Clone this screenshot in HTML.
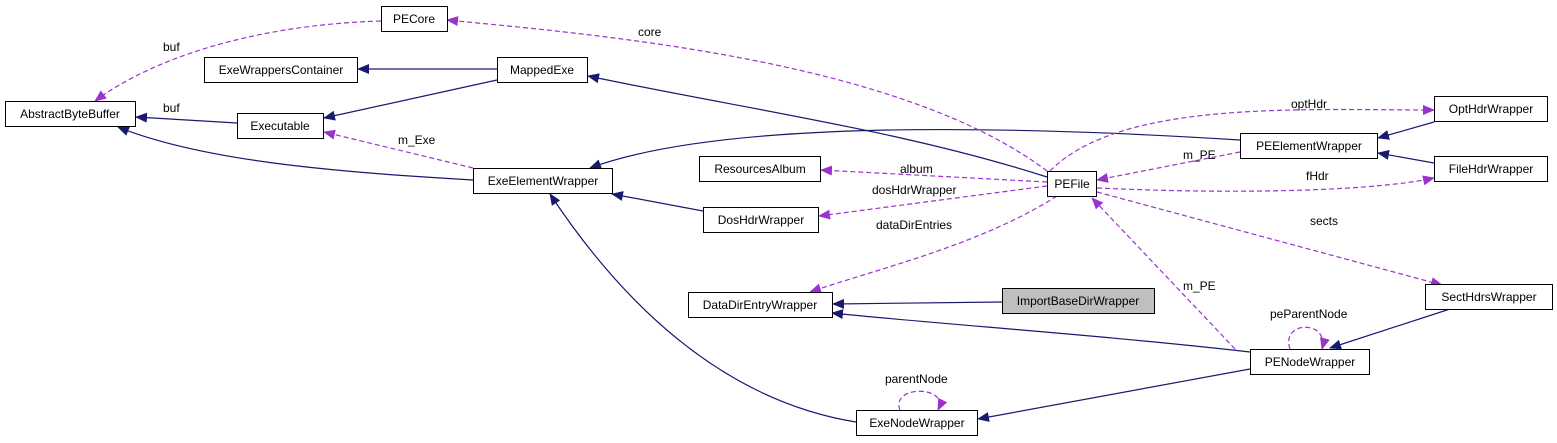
<!DOCTYPE html>
<html><head><meta charset="utf-8"><style>
html,body{margin:0;padding:0;background:#fff;}
svg{display:block;font-family:"Liberation Sans",sans-serif;font-size:12px;}
.b{fill:#fff;stroke:#000;stroke-width:1}
.n{fill:none;stroke:#191970;stroke-width:1.2}
.p{fill:none;stroke:#9a32cd;stroke-width:1.2;stroke-dasharray:5,3}
text{fill:#000}
</style></head><body>
<svg width="1557" height="443" viewBox="0 0 1557 443">
<defs>
<marker id="an" markerWidth="12" markerHeight="10" refX="11" refY="5" orient="auto" markerUnits="userSpaceOnUse"><path d="M0,0 L12,5 L0,10 z" fill="#191970"/></marker>
<marker id="ap" markerWidth="12" markerHeight="10" refX="11" refY="5" orient="auto" markerUnits="userSpaceOnUse"><path d="M0,0 L12,5 L0,10 z" fill="#9a32cd"/></marker>
</defs>
<!-- navy edges -->
<path class="n" d="M497,69 L358,69" marker-end="url(#an)"/>
<path class="n" d="M497,80 L324,118" marker-end="url(#an)"/>
<path class="n" d="M237,123 L136,117" marker-end="url(#an)"/>
<path class="n" d="M473,180 C330,172 200,160 118,127" marker-end="url(#an)"/>
<path class="n" d="M1047,177 C900,130 750,110 588,76" marker-end="url(#an)"/>
<path class="n" d="M1240,140 C1000,125 720,120 590,168" marker-end="url(#an)"/>
<path class="n" d="M703,211 L612,194" marker-end="url(#an)"/>
<path class="n" d="M1434,122 L1378,138" marker-end="url(#an)"/>
<path class="n" d="M1434,163 L1378,153" marker-end="url(#an)"/>
<path class="n" d="M1002,302 L833,304" marker-end="url(#an)"/>
<path class="n" d="M1250,352 C1100,335 950,325 832,313" marker-end="url(#an)"/>
<path class="n" d="M1450,309 L1330,348" marker-end="url(#an)"/>
<path class="n" d="M1250,369 L978,419" marker-end="url(#an)"/>
<path class="n" d="M856,422 C720,400 620,300 550,194" marker-end="url(#an)"/>
<!-- purple edges -->
<path class="p" d="M381,21 C250,25 150,60 95,101" marker-end="url(#ap)"/>
<path class="p" d="M1047,171 C900,60 600,35 447,20" marker-end="url(#ap)"/>
<path class="p" d="M473,168 L324,132" marker-end="url(#ap)"/>
<path class="p" d="M1047,182 L821,170" marker-end="url(#ap)"/>
<path class="p" d="M1047,186 L819,216" marker-end="url(#ap)"/>
<path class="p" d="M1057,196 C980,245 880,268 810,292" marker-end="url(#ap)"/>
<path class="p" d="M1240,152 L1097,180" marker-end="url(#ap)"/>
<path class="p" d="M1050,171 C1120,100 1300,110 1434,110" marker-end="url(#ap)"/>
<path class="p" d="M1097,188 C1250,195 1380,190 1434,178" marker-end="url(#ap)"/>
<path class="p" d="M1097,192 L1442,285" marker-end="url(#ap)"/>
<path class="p" d="M1235,349 L1092,198" marker-end="url(#ap)"/>
<path class="p" d="M1290,349 C1280,320 1330,320 1322,349" marker-end="url(#ap)"/>
<path class="p" d="M900,410 C890,385 950,385 938,410" marker-end="url(#ap)"/>
<!-- labels -->
<text x="163" y="51">buf</text>
<text x="163" y="112">buf</text>
<text x="638" y="36">core</text>
<text x="398" y="144">m_Exe</text>
<text x="900" y="173">album</text>
<text x="872" y="194">dosHdrWrapper</text>
<text x="876" y="229">dataDirEntries</text>
<text x="1183" y="159">m_PE</text>
<text x="1291" y="108">optHdr</text>
<text x="1306" y="180">fHdr</text>
<text x="1310" y="225">sects</text>
<text x="1183" y="290">m_PE</text>
<text x="1270" y="318">peParentNode</text>
<text x="885" y="383">parentNode</text>
<!-- nodes -->
<rect class="b" x="5.5" y="101.5" width="130" height="25"/><text x="70" y="118" text-anchor="middle">AbstractByteBuffer</text>
<rect class="b" x="381.5" y="6.5" width="66" height="25"/><text x="414" y="23" text-anchor="middle">PECore</text>
<rect class="b" x="204.5" y="57.5" width="153" height="25"/><text x="281" y="74" text-anchor="middle">ExeWrappersContainer</text>
<rect class="b" x="497.5" y="57.5" width="90" height="25"/><text x="542" y="74" text-anchor="middle">MappedExe</text>
<rect class="b" x="237.5" y="113.5" width="86" height="25"/><text x="280" y="130" text-anchor="middle">Executable</text>
<rect class="b" x="473.5" y="168.5" width="139" height="25"/><text x="543" y="185" text-anchor="middle">ExeElementWrapper</text>
<rect class="b" x="699.5" y="156.5" width="121" height="25"/><text x="760" y="173" text-anchor="middle">ResourcesAlbum</text>
<rect class="b" x="703.5" y="207.5" width="115" height="25"/><text x="761" y="224" text-anchor="middle">DosHdrWrapper</text>
<rect class="b" x="1047.5" y="171.5" width="49" height="25"/><text x="1072" y="188" text-anchor="middle">PEFile</text>
<rect class="b" x="1240.5" y="133.5" width="137" height="25"/><text x="1309" y="150" text-anchor="middle">PEElementWrapper</text>
<rect class="b" x="1434.5" y="96.5" width="113" height="25"/><text x="1491" y="113" text-anchor="middle">OptHdrWrapper</text>
<rect class="b" x="1434.5" y="156.5" width="113" height="25"/><text x="1491" y="173" text-anchor="middle">FileHdrWrapper</text>
<rect class="b" x="688.5" y="292.5" width="144" height="25"/><text x="760" y="309" text-anchor="middle">DataDirEntryWrapper</text>
<rect x="1002.5" y="288.5" width="152" height="25" fill="#bfbfbf" stroke="#000"/><text x="1078" y="305" text-anchor="middle">ImportBaseDirWrapper</text>
<rect class="b" x="1425.5" y="284.5" width="127" height="25"/><text x="1489" y="301" text-anchor="middle">SectHdrsWrapper</text>
<rect class="b" x="1250.5" y="349.5" width="119" height="25"/><text x="1310" y="366" text-anchor="middle">PENodeWrapper</text>
<rect class="b" x="856.5" y="410.5" width="121" height="25"/><text x="917" y="427" text-anchor="middle">ExeNodeWrapper</text>
</svg>
</body></html>
